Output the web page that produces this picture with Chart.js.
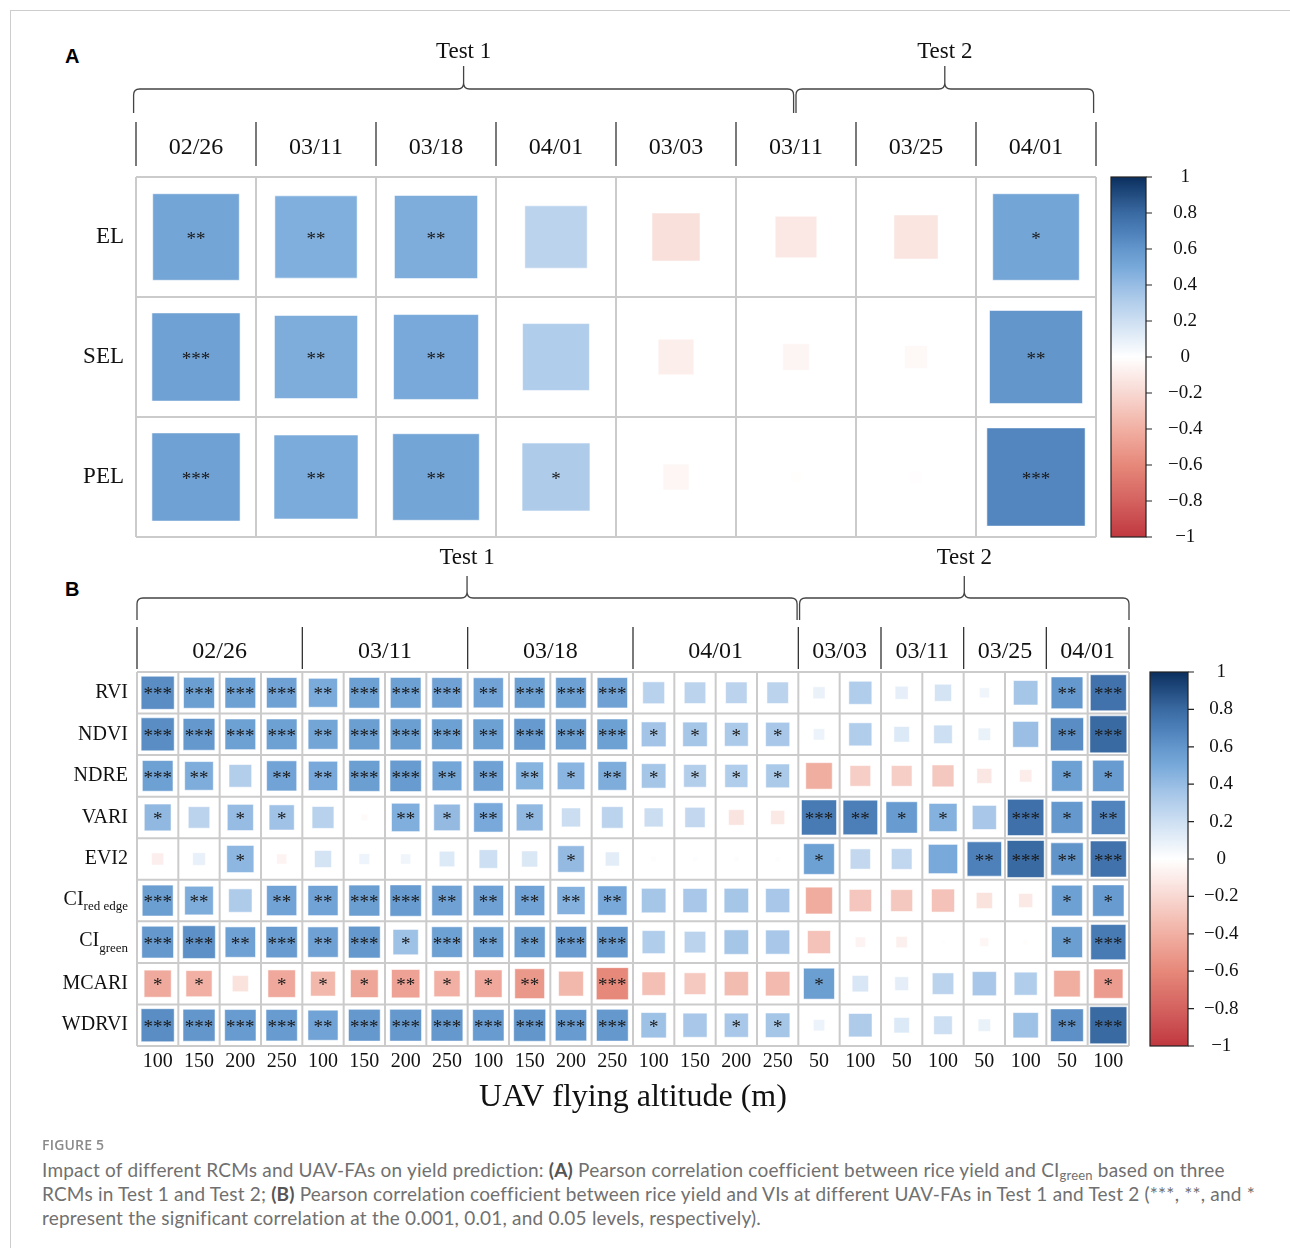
<!DOCTYPE html>
<html>
<head>
<meta charset="utf-8">
<script src="https://cdn.jsdelivr.net/npm/chart.js@4.4.1/dist/chart.umd.min.js"></script>
<style>
  body { margin: 0; width: 1290px; height: 1248px; position: relative; background: #fff; overflow: hidden; }
  .frame { position: absolute; left: 10px; top: 10px; width: 1400px; height: 1400px;
           border-top: 1px solid #cdcdcd; border-left: 1px solid #cdcdcd; }
  .tag { position: absolute; font: bold 20px 'Liberation Sans', Arial, sans-serif; color: #000; }
  canvas { position: absolute; left: 0; }
  #figno { position: absolute; left: 42px; top: 1136px; font: 600 14px 'Open Sans', sans-serif;
           color: #8a8a8a; line-height: 18px; letter-spacing: 0.2px; }
  #cap { position: absolute; left: 42px; top: 1158px; font: 19px Lato, sans-serif; color: #707070;
         line-height: 24px; white-space: nowrap; letter-spacing: 0.2px; }
  #cap b { color: #555; }
  #cap sub { font-size: 13px; vertical-align: -3px; line-height: 0; }
</style>
</head>
<body>
<div class="frame"></div>
<div class="tag" style="left:65px; top:45px;">A</div>
<div class="tag" style="left:65px; top:578px;">B</div>
<canvas id="chartA" width="1290" height="549" style="top:0"></canvas>
<canvas id="chartB" width="1290" height="600" style="top:540px"></canvas>
<div id="figno">FIGURE 5</div>
<div id="cap">Impact of different RCMs and UAV-FAs on yield prediction: <b>(A)</b> Pearson correlation coefficient between rice yield and CI<sub>green</sub> based on three<br>RCMs in Test 1 and Test 2; <b>(B)</b> Pearson correlation coefficient between rice yield and VIs at different UAV-FAs in Test 1 and Test 2 (***, **, and *<br>represent the significant correlation at the 0.001, 0.01, and 0.05 levels, respectively).</div>

<script>
// ---- panel A: CIgreen vs yield for three RCMs ----
const datesA = ['02/26', '03/11', '03/18', '04/01', '03/03', '03/11', '03/25', '04/01'];
const rcmA = ['EL', 'SEL', 'PEL'];
const rA = [
  [0.52, 0.47, 0.48, 0.27, -0.16, -0.12, -0.135, 0.52],
  [0.54, 0.48, 0.50, 0.31, -0.088, -0.049, -0.035, 0.60],
  [0.54, 0.49, 0.52, 0.32, -0.046, -0.007, -0.011, 0.67]
];
const starsA = [
  [2, 2, 2, 0, 0, 0, 0, 1],
  [3, 2, 2, 0, 0, 0, 0, 2],
  [3, 2, 2, 1, 0, 0, 0, 3]
];

// ---- panel B: VIs vs yield at each flying altitude ----
const altitudesB = [100, 150, 200, 250, 100, 150, 200, 250, 100, 150, 200, 250, 100, 150, 200, 250,
                    50, 100, 50, 100, 50, 100, 50, 100];
const datesB = ['02/26', '03/11', '03/18', '04/01', '03/03', '03/11', '03/25', '04/01'];
const dateSpanB = [4, 4, 4, 4, 2, 2, 2, 2];
const indicesB = ['RVI', 'NDVI', 'NDRE', 'VARI', 'EVI2', 'CI|red edge', 'CI|green', 'MCARI', 'WDRVI'];
const rB = [
  [0.64, 0.56, 0.55, 0.54, 0.49, 0.55, 0.55, 0.54, 0.53, 0.55, 0.55, 0.54, 0.28, 0.27, 0.27, 0.27, 0.085, 0.31, 0.10, 0.17, 0.06, 0.35, 0.59, 0.76],
  [0.64, 0.59, 0.55, 0.55, 0.52, 0.56, 0.56, 0.55, 0.55, 0.58, 0.56, 0.55, 0.36, 0.35, 0.33, 0.34, 0.075, 0.31, 0.14, 0.20, 0.09, 0.39, 0.64, 0.80],
  [0.55, 0.48, 0.30, 0.53, 0.50, 0.56, 0.575, 0.515, 0.54, 0.45, 0.44, 0.48, 0.35, 0.30, 0.31, 0.33, -0.41, -0.25, -0.25, -0.28, -0.13, -0.09, 0.55, 0.575],
  [0.42, 0.27, 0.40, 0.37, 0.28, -0.026, 0.47, 0.41, 0.50, 0.42, 0.21, 0.27, 0.21, 0.24, -0.14, -0.115, 0.72, 0.70, 0.575, 0.46, 0.34, 0.77, 0.59, 0.68],
  [-0.085, 0.094, 0.43, -0.06, 0.17, 0.067, 0.06, 0.14, 0.20, 0.15, 0.41, 0.115, -0.015, 0.013, -0.015, 0.013, 0.55, 0.24, 0.25, 0.50, 0.69, 0.80, 0.61, 0.76],
  [0.56, 0.48, 0.32, 0.53, 0.53, 0.56, 0.575, 0.54, 0.54, 0.53, 0.46, 0.50, 0.35, 0.34, 0.35, 0.34, -0.42, -0.29, -0.28, -0.31, -0.15, -0.115, 0.55, 0.575],
  [0.59, 0.625, 0.54, 0.575, 0.54, 0.59, 0.375, 0.55, 0.55, 0.56, 0.575, 0.575, 0.31, 0.27, 0.35, 0.34, -0.31, -0.06, -0.075, -0.01, -0.044, -0.013, 0.56, 0.72],
  [-0.43, -0.40, -0.15, -0.44, -0.36, -0.45, -0.47, -0.40, -0.44, -0.52, -0.36, -0.60, -0.32, -0.275, -0.34, -0.35, 0.56, 0.156, 0.11, 0.27, 0.34, 0.31, -0.41, -0.50],
  [0.64, 0.60, 0.575, 0.575, 0.53, 0.59, 0.59, 0.59, 0.575, 0.60, 0.575, 0.59, 0.375, 0.34, 0.34, 0.35, 0.075, 0.32, 0.14, 0.20, 0.09, 0.375, 0.625, 0.80]
];
const starsB = [
  [3, 3, 3, 3, 2, 3, 3, 3, 2, 3, 3, 3, 0, 0, 0, 0, 0, 0, 0, 0, 0, 0, 2, 3],
  [3, 3, 3, 3, 2, 3, 3, 3, 2, 3, 3, 3, 1, 1, 1, 1, 0, 0, 0, 0, 0, 0, 2, 3],
  [3, 2, 0, 2, 2, 3, 3, 2, 2, 2, 1, 2, 1, 1, 1, 1, 0, 0, 0, 0, 0, 0, 1, 1],
  [1, 0, 1, 1, 0, 0, 2, 1, 2, 1, 0, 0, 0, 0, 0, 0, 3, 2, 1, 1, 0, 3, 1, 2],
  [0, 0, 1, 0, 0, 0, 0, 0, 0, 0, 1, 0, 0, 0, 0, 0, 1, 0, 0, 0, 2, 3, 2, 3],
  [3, 2, 0, 2, 2, 3, 3, 2, 2, 2, 2, 2, 0, 0, 0, 0, 0, 0, 0, 0, 0, 0, 1, 1],
  [3, 3, 2, 3, 2, 3, 1, 3, 2, 2, 3, 3, 0, 0, 0, 0, 0, 0, 0, 0, 0, 0, 1, 3],
  [1, 1, 0, 1, 1, 1, 2, 1, 1, 2, 0, 3, 0, 0, 0, 0, 1, 0, 0, 0, 0, 0, 0, 1],
  [3, 3, 3, 3, 2, 3, 3, 3, 3, 3, 3, 3, 1, 0, 1, 1, 0, 0, 0, 0, 0, 0, 2, 3]
];

const cbTicks = [1, 0.8, 0.6, 0.4, 0.2, 0, -0.2, -0.4, -0.6, -0.8, -1];

const SERIF = "'Liberation Serif', 'Times New Roman', serif";

// diverging red-white-blue map
const cmapStops = [
  [-1.0, [192, 56, 63]], [-0.8, [212, 98, 95]], [-0.6, [230, 136, 122]], [-0.4, [241, 176, 163]],
  [-0.2, [248, 216, 210]], [0.0, [255, 255, 255]], [0.2, [205, 223, 242]], [0.35, [166, 198, 232]],
  [0.5, [120, 169, 218]], [0.6, [99, 150, 203]], [0.7, [76, 127, 184]], [0.8, [58, 106, 162]],
  [1.0, [11, 47, 94]]
];
function cmap(v) {
  v = Math.max(-1, Math.min(1, v));
  for (let i = 1; i < cmapStops.length; i++) {
    const [v1, c1] = cmapStops[i];
    if (v <= v1) {
      const [v0, c0] = cmapStops[i - 1];
      const t = (v - v0) / (v1 - v0);
      const c = c0.map((a, k) => Math.round(a + (c1[k] - a) * t));
      return `rgb(${c[0]},${c[1]},${c[2]})`;
    }
  }
  return 'rgb(11,47,94)';
}

function toPoints(r, stars) {
  const pts = [];
  r.forEach((row, j) => row.forEach((v, i) => pts.push({ x: i, y: j, v: v, s: stars[j][i] })));
  return pts;
}

function tickText(v) {
  if (Math.abs(v) < 1e-9) return '0';
  return (v < 0 ? '\u2212' : '') + String(+Math.abs(v).toFixed(1));
}

// square side follows sqrt(|r|) of the cell size
function squareRadius(ctx) {
  if (!ctx.raw) return 0;
  const xs = ctx.chart.scales.x, ys = ctx.chart.scales.y;
  const cw = Math.min(Math.abs(xs.getPixelForValue(1) - xs.getPixelForValue(0)),
                      Math.abs(ys.getPixelForValue(1) - ys.getPixelForValue(0)));
  return Math.sqrt(Math.abs(ctx.raw.v)) * cw / Math.SQRT2;
}

function drawBrace(ctx, x0, x1, yh, yt, ye) {
  const xm = (x0 + x1) / 2, r = 6;
  ctx.beginPath();
  ctx.moveTo(x0, ye);
  ctx.lineTo(x0, yh + r);
  ctx.quadraticCurveTo(x0, yh, x0 + r, yh);
  ctx.lineTo(xm - r, yh);
  ctx.quadraticCurveTo(xm, yh, xm, yh - r);
  ctx.lineTo(xm, yt);
  ctx.moveTo(xm, yh - r);
  ctx.quadraticCurveTo(xm, yh, xm + r, yh);
  ctx.lineTo(x1 - r, yh);
  ctx.quadraticCurveTo(x1, yh, x1, yh + r);
  ctx.lineTo(x1, ye);
  ctx.stroke();
}

const decor = {
  id: 'decor',
  beforeDatasetsDraw(chart, args, o) {
    const { ctx, chartArea: a, scales: { x, y } } = chart;
    ctx.save();
    ctx.strokeStyle = '#cbcbcb';
    ctx.lineWidth = o.gridWidth;
    ctx.beginPath();
    for (let i = 0; i <= o.cols; i++) {
      const px = x.getPixelForValue(i - 0.5);
      ctx.moveTo(px, a.top); ctx.lineTo(px, a.bottom);
    }
    for (let j = 0; j <= o.rows.length; j++) {
      const py = y.getPixelForValue(j - 0.5);
      ctx.moveTo(a.left, py); ctx.lineTo(a.right, py);
    }
    ctx.stroke();
    ctx.restore();
  },
  afterDatasetsDraw(chart, args, o) {
    const { ctx, chartArea: a, scales: { x, y } } = chart;
    ctx.save();

    // significance stars
    const pts = chart.data.datasets[0].data;
    ctx.fillStyle = '#1a1a1a';
    ctx.font = `${o.starSize}px ${SERIF}`;
    ctx.textAlign = 'center';
    ctx.textBaseline = 'middle';
    chart.getDatasetMeta(0).data.forEach((el, i) => {
      const n = pts[i].s;
      if (n) ctx.fillText('*'.repeat(n), el.x, el.y + o.starSize * 0.14);
    });

    // row labels, with subscripts for CI
    ctx.fillStyle = '#111';
    ctx.textAlign = 'right';
    o.rows.forEach((lab, j) => {
      const py = y.getPixelForValue(j);
      const xr = a.left - o.rowGap;
      const [main, sub] = lab.split('|');
      if (sub) {
        ctx.font = `${o.subSize}px ${SERIF}`;
        const w = ctx.measureText(sub).width;
        ctx.fillText(sub, xr, py + o.rowSize * 0.3);
        ctx.font = `${o.rowSize}px ${SERIF}`;
        ctx.fillText(main, xr - w, py - 1);
      } else {
        ctx.font = `${o.rowSize}px ${SERIF}`;
        ctx.fillText(main, xr, py);
      }
    });

    // date headers with separators
    ctx.strokeStyle = '#333';
    ctx.lineWidth = 1.3;
    ctx.textAlign = 'center';
    ctx.font = `${o.dateSize}px ${SERIF}`;
    let c = 0;
    const seps = [x.getPixelForValue(-0.5)];
    o.groups.forEach((g, k) => {
      const xl = x.getPixelForValue(c - 0.5);
      const xr = x.getPixelForValue(c + o.spans[k] - 0.5);
      ctx.fillText(g, (xl + xr) / 2, a.top + o.dateY);
      seps.push(xr);
      c += o.spans[k];
    });
    ctx.beginPath();
    seps.forEach(px => { ctx.moveTo(px, a.top + o.sepTop); ctx.lineTo(px, a.top + o.sepBottom); });
    ctx.stroke();

    // test braces
    ctx.strokeStyle = '#444';
    ctx.lineWidth = 1.3;
    ctx.font = `23px ${SERIF}`;
    o.tests.forEach(t => {
      const x0 = x.getPixelForValue(t.from - 0.5);
      const x1 = x.getPixelForValue(t.to - 0.5);
      drawBrace(ctx, x0, x1, a.top + o.braceY, a.top + o.braceTip, a.top + o.braceEnd);
      ctx.fillText(t.label, (x0 + x1) / 2, a.top + o.testY);
    });

    // colour bar
    const cb = chart.scales.cb;
    const bx = a.right + o.cbGap, bw = o.cbWidth;
    const top = cb.getPixelForValue(1), bottom = cb.getPixelForValue(-1);
    const grad = ctx.createLinearGradient(0, top, 0, bottom);
    cmapStops.forEach(([v, col]) => grad.addColorStop((1 - v) / 2, `rgb(${col[0]},${col[1]},${col[2]})`));
    ctx.fillStyle = grad;
    ctx.fillRect(bx, top, bw, bottom - top);
    ctx.strokeStyle = '#222';
    ctx.lineWidth = 1.2;
    ctx.strokeRect(bx, top, bw, bottom - top);
    ctx.beginPath();
    cbTicks.forEach(v => {
      const py = cb.getPixelForValue(v);
      ctx.moveTo(bx + bw, py); ctx.lineTo(bx + bw + 6, py);
    });
    ctx.stroke();
    ctx.restore();
  }
};

// colour-bar axis: labels sit `offset` px right of the plot, centred
function cbScale(offset, width) {
  return {
    type: 'linear', position: 'right', min: -1, max: 1,
    grid: { display: false, drawTicks: true, tickLength: offset },
    border: { display: false },
    afterBuildTicks: s => { s.ticks = cbTicks.map(v => ({ value: v })); },
    afterFit: s => { s.width = width; },
    ticks: {
      callback: v => tickText(v),
      crossAlign: 'center', padding: 0,
      color: '#111', font: { family: SERIF, size: 19 }
    }
  };
}

function squareDataset(points) {
  return {
    data: points,
    pointStyle: 'rect',
    pointRotation: 0,
    pointRadius: squareRadius,
    pointBackgroundColor: c => c.raw ? cmap(c.raw.v) : '#fff',
    pointBorderColor: 'rgba(255,255,255,0.55)',
    pointBorderWidth: 1
  };
}

new Chart(document.getElementById('chartA'), {
  type: 'scatter',
  data: { datasets: [squareDataset(toPoints(rA, starsA))] },
  plugins: [decor],
  options: {
    responsive: false, animation: false, events: [],
    layout: { padding: { left: 136, top: 177, right: 74, bottom: 12 } },
    scales: {
      x: { type: 'linear', display: false, min: -0.5, max: datesA.length - 0.5 },
      y: { type: 'linear', display: false, min: -0.5, max: rcmA.length - 0.5, reverse: true },
      cb: cbScale(72, 120)
    },
    plugins: {
      legend: { display: false }, tooltip: { enabled: false },
      decor: {
        cols: datesA.length, rows: rcmA, groups: datesA, spans: datesA.map(() => 1),
        gridWidth: 2, starSize: 19, rowSize: 23, subSize: 15, rowGap: 12,
        dateSize: 24, dateY: -29, sepTop: -55, sepBottom: -11,
        braceY: -88, braceTip: -111, braceEnd: -64, testY: -125,
        tests: [{ label: 'Test 1', from: -0.02, to: 5.48 }, { label: 'Test 2', from: 5.5, to: 7.98 }],
        cbGap: 15, cbWidth: 35
      }
    }
  }
});

new Chart(document.getElementById('chartB'), {
  type: 'scatter',
  data: { datasets: [squareDataset(toPoints(rB, starsB))] },
  plugins: [decor],
  options: {
    responsive: false, animation: false, events: [],
    layout: { padding: { left: 137, top: 132, right: 31, bottom: 23 } },
    scales: {
      x: {
        type: 'linear', position: 'bottom', min: -0.5, max: altitudesB.length - 0.5,
        grid: { display: false, drawTicks: false },
        border: { display: false },
        afterBuildTicks: s => { s.ticks = altitudesB.map((_, i) => ({ value: i })); },
        afterFit: s => { s.height = 71; },
        ticks: {
          autoSkip: false, maxRotation: 0, padding: 4,
          callback: (v, i) => String(altitudesB[i]),
          color: '#111', font: { family: SERIF, size: 20 }
        },
        title: {
          display: true, text: 'UAV flying altitude (m)', padding: 0,
          color: '#111', font: { family: SERIF, size: 32 }
        }
      },
      y: { type: 'linear', display: false, min: -0.5, max: indicesB.length - 0.5, reverse: true },
      cb: cbScale(75, 130)
    },
    plugins: {
      legend: { display: false }, tooltip: { enabled: false },
      decor: {
        cols: altitudesB.length, rows: indicesB, groups: datesB, spans: dateSpanB,
        gridWidth: 2, starSize: 19, rowSize: 20, subSize: 13, rowGap: 9,
        dateSize: 24, dateY: -20, sepTop: -45, sepBottom: -3,
        braceY: -74, braceTip: -96, braceEnd: -52, testY: -114,
        tests: [{ label: 'Test 1', from: 0, to: 15.97 }, { label: 'Test 2', from: 16.03, to: 24 }],
        cbGap: 21, cbWidth: 38
      }
    }
  }
});
</script>
</body>
</html>
